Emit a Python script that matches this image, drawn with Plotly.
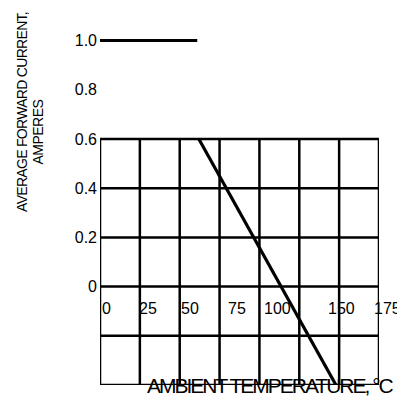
import plotly.graph_objects as go

# ---- data ----
temp_flat = [0, 61]
current_flat = [1.0, 1.0]
temp_derate = [62, 148]
current_derate = [0.6, -0.4]

grid_x = [0, 25, 50, 75, 100, 125, 150, 175]
grid_y = [-0.4, -0.2, 0.0, 0.2, 0.4, 0.6]

x_tick_vals = [0, 25, 50, 75, 100, 150, 175]
x_tick_text = ["0", "25", "50", "75", "100", "150", "175"]
y_tick_vals = [0, 0.2, 0.4, 0.6, 0.8, 1.0]
y_tick_text = ["0", "0.2", "0.4", "0.6", "0.8", "1.0"]

x_title = "AMBIENT TEMPERATURE, °C"
y_title_1 = "AVERAGE FORWARD CURRENT,"
y_title_2 = "AMPERES"

# ---- style ----
# page body has an 8px margin, so the figure is sized/offset to compensate
W, H = 397, 393
ML, MR, MT, MB = 92, 26, 12, 16
x_range = [0, 175]
y_range = [-0.4, 1.0837]
x_label_shift = [6, 8, 10, 17, 18, 2, 8]
SANS = "Liberation Sans, Arial, sans-serif"
TICK_FONT = dict(family=SANS, size=16, color="black")


def squeeze(text, spacing):
    return '<span style="letter-spacing:%spx">%s</span>' % (spacing, text)


fig = go.Figure()

shapes = []
for gx in grid_x:
    shapes.append(dict(type="line", xref="x", yref="y", x0=gx, x1=gx,
                       y0=min(grid_y), y1=max(grid_y),
                       line=dict(color="black", width=2.5), layer="below"))
for gy in grid_y:
    shapes.append(dict(type="line", xref="x", yref="y", x0=min(grid_x), x1=max(grid_x),
                       y0=gy, y1=gy,
                       line=dict(color="black", width=2.5), layer="below"))

fig.add_trace(go.Scatter(x=temp_flat, y=current_flat, mode="lines",
                         line=dict(color="black", width=3), showlegend=False,
                         cliponaxis=False))
fig.add_trace(go.Scatter(x=temp_derate, y=current_derate, mode="lines",
                         line=dict(color="black", width=3.2), showlegend=False,
                         cliponaxis=False))

annotations = []
for v, t, s in zip(x_tick_vals, x_tick_text, x_label_shift):
    annotations.append(dict(x=v, y=0, xref="x", yref="y", text=t, showarrow=False,
                            xanchor="center", yanchor="middle", xshift=s, yshift=-22,
                            font=TICK_FONT))

annotations.append(dict(x=107, y=-0.4, xref="x", yref="y", text=squeeze(x_title, -2),
                        showarrow=False, xanchor="center", yanchor="middle",
                        font=dict(family=SANS, size=21, color="black")))
annotations.append(dict(x=0, y=0.71, xref="paper", yref="y", text=squeeze(y_title_1, -0.7),
                        showarrow=False, textangle=-90, xanchor="center", yanchor="middle",
                        xshift=-78, font=dict(family=SANS, size=14, color="black")))
annotations.append(dict(x=0, y=0.626, xref="paper", yref="y", text=squeeze(y_title_2, -0.5),
                        showarrow=False, textangle=-90, xanchor="center", yanchor="middle",
                        xshift=-62, font=dict(family=SANS, size=14, color="black")))

fig.update_layout(
    width=W, height=H,
    margin=dict(l=ML, r=MR, t=MT, b=MB, pad=0),
    paper_bgcolor="white", plot_bgcolor="white",
    shapes=shapes, annotations=annotations,
    xaxis=dict(range=x_range, showgrid=False, zeroline=False, showline=False,
               showticklabels=False, ticks=""),
    yaxis=dict(range=y_range, showgrid=False, zeroline=False, showline=False,
               tickvals=y_tick_vals, ticktext=y_tick_text, ticks="",
               ticklabelstandoff=2, tickfont=TICK_FONT),
)

fig.write_html("out.html")
